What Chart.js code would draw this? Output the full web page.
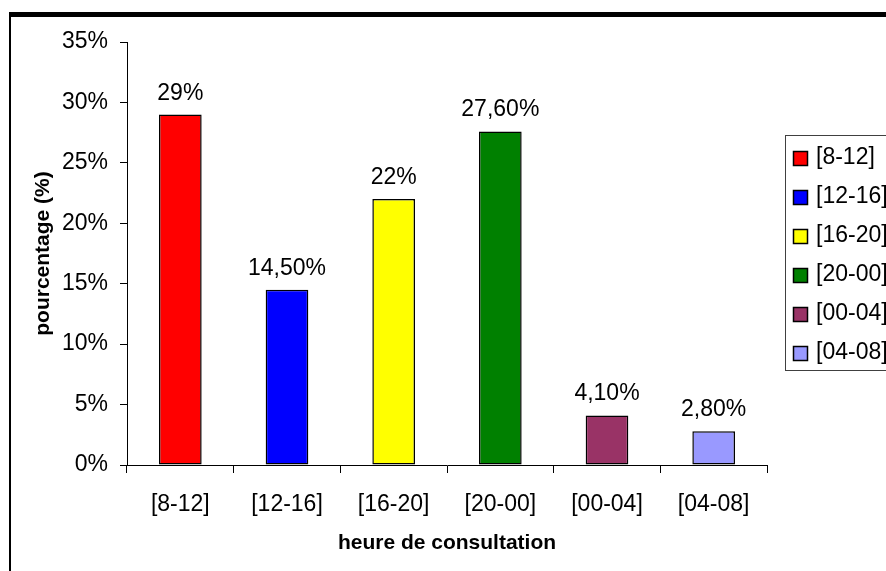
<!DOCTYPE html>
<html>
<head>
<meta charset="utf-8">
<script src="https://cdn.jsdelivr.net/npm/chart.js@4/dist/chart.umd.min.js"></script>
<style>
  html, body { margin: 0; padding: 0; background: #fff; overflow: hidden; }
  canvas { display: block; }
</style>
</head>
<body>
<canvas id="chart" width="886" height="571"></canvas>
<script>
// Time slots of consultation and share of consultations per slot (%)
const categories = ['[8-12]', '[12-16]', '[16-20]', '[20-00]', '[00-04]', '[04-08]'];
const percentages = [29, 14.5, 22, 27.6, 4.1, 2.8];
const barColors = ['#FF0000', '#0000FF', '#FFFF00', '#008000', '#993366', '#9999FF'];
const yMin = 0, yMax = 35, yStep = 5;

const FONT = "'Liberation Sans', Arial, sans-serif";
const TEXT_SIZE = 23;

// French-style percentage text: whole numbers plain, others with two decimals and a comma
function formatPercent(v) {
  return Number.isInteger(v) ? v + '%' : v.toFixed(2).replace('.', ',') + '%';
}

// Outer frame: heavy top rule and thin left rule
const framePlugin = {
  id: 'frame',
  afterDraw(chart) {
    const ctx = chart.ctx;
    ctx.save();
    ctx.fillStyle = '#000';
    ctx.fillRect(9, 12, chart.width - 9, 5);
    ctx.fillRect(9, 12, 2, chart.height - 12);
    ctx.restore();
  }
};

// Value labels above each bar
const valueLabelPlugin = {
  id: 'valueLabels',
  afterDatasetsDraw(chart) {
    const ctx = chart.ctx;
    const meta = chart.getDatasetMeta(0);
    ctx.save();
    ctx.font = TEXT_SIZE + 'px ' + FONT;
    ctx.fillStyle = '#000';
    ctx.textAlign = 'center';
    ctx.textBaseline = 'alphabetic';
    meta.data.forEach((bar, i) => {
      ctx.fillText(formatPercent(percentages[i]), bar.x, bar.y - 15);
    });
    ctx.restore();
  }
};

// Boxed legend at the right, one swatch per time slot
const boxLegendPlugin = {
  id: 'boxLegend',
  afterDraw(chart) {
    const ctx = chart.ctx;
    const left = 785, top = 135, bottom = 370;
    ctx.save();
    ctx.strokeStyle = '#404040';
    ctx.lineWidth = 1;
    ctx.strokeRect(left + 0.5, top + 0.5, chart.width, bottom - top);
    ctx.font = TEXT_SIZE + 'px ' + FONT;
    ctx.textBaseline = 'middle';
    ctx.textAlign = 'left';
    categories.forEach((label, i) => {
      const cy = 158 + i * 39;
      ctx.fillStyle = barColors[i];
      ctx.fillRect(793, cy - 7, 15, 15);
      ctx.strokeStyle = '#000';
      ctx.lineWidth = 1.5;
      ctx.strokeRect(793.5, cy - 6.5, 14, 14);
      ctx.fillStyle = '#000';
      ctx.fillText(label, 816, cy);
    });
    ctx.restore();
  }
};

new Chart(document.getElementById('chart'), {
  type: 'bar',
  data: {
    labels: categories,
    datasets: [{
      data: percentages,
      backgroundColor: barColors,
      borderColor: '#000',
      borderWidth: 1.5,
      borderSkipped: false,
      barPercentage: 0.4,
      categoryPercentage: 1
    }]
  },
  options: {
    responsive: false,
    animation: false,
    layout: { padding: { top: 42, right: 119, bottom: 0, left: 0 } },
    plugins: {
      legend: { display: false },
      tooltip: { enabled: false }
    },
    scales: {
      x: {
        offset: true,
        grid: { display: true, drawOnChartArea: false, offset: true, tickLength: 8, color: '#000', lineWidth: 1 },
        border: { display: true, color: '#000', width: 1 },
        ticks: { color: '#000', font: { family: FONT, size: TEXT_SIZE }, padding: 18, maxRotation: 0 },
        title: {
          display: true,
          text: 'heure de consultation',
          color: '#000',
          font: { family: FONT, size: 21, weight: 'bold' },
          padding: { top: 0, bottom: 15 }
        },
        afterFit(scale) { scale.height = 106; }
      },
      y: {
        min: yMin,
        max: yMax,
        grid: { display: true, drawOnChartArea: false, tickLength: 7, color: '#000', lineWidth: 1 },
        border: { display: true, color: '#000', width: 1 },
        ticks: {
          stepSize: yStep,
          color: '#000',
          font: { family: FONT, size: TEXT_SIZE },
          padding: 12,
          callback: v => v + '%'
        },
        title: {
          display: true,
          text: 'pourcentage (%)',
          color: '#000',
          font: { family: FONT, size: 21, weight: 'bold' },
          padding: { top: 31, bottom: 0 }
        },
        afterFit(scale) { scale.width = 127; }
      }
    }
  },
  plugins: [framePlugin, valueLabelPlugin, boxLegendPlugin]
});
</script>
</body>
</html>
